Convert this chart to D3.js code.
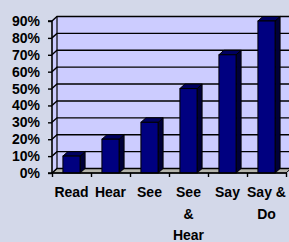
<!DOCTYPE html>
<html>
<head>
<meta charset="utf-8">
<script src="https://cdn.jsdelivr.net/npm/d3@7"></script>
<style>
  body { margin: 0; background: #d3d8e9; }
  svg { display: block; }
  text { font-family: "Liberation Sans", Arial, sans-serif; font-weight: bold; font-size: 14px; fill: #000; }
</style>
</head>
<body>
<svg id="chart" width="289" height="242"></svg>
<script>
/* Data */
var categories = ["Read", "Hear", "See", "See\n&\nHear", "Say", "Say &\nDo"];
var values = [0.10, 0.20, 0.30, 0.50, 0.70, 0.90];
var yTicks = [0, 0.1, 0.2, 0.3, 0.4, 0.5, 0.6, 0.7, 0.8, 0.9];

/* Scales */
var dx = 5, dy = 4.5; // 3d depth
var x = d3.scaleBand()
  .domain(categories)
  .range([52, 286])
  .paddingInner(0.56)
  .paddingOuter(0.28);

var xi = d3.scaleLinear().domain([0, categories.length]).range([52, 286]);

var y = d3.scaleLinear().domain([0, 0.9]).range([173, 21]);

var svg = d3.select("svg#chart");
var y0 = y(0), yTop = y(0.9);

// left wall
svg.append("polygon")
  .attr("points", [[52, y0], [52 + dx, y0 - dy], [52 + dx, yTop - dy], [52, yTop]].join(" "))
  .attr("fill", "#ccccff");

// back wall
svg.append("rect")
  .attr("x", 52 + dx).attr("y", yTop - dy)
  .attr("width", 300).attr("height", y0 - yTop)
  .attr("fill", "#ccccff");

// floor
svg.append("polygon")
  .attr("points", [[52, y0], [286, y0], [286 + dx, y0 - dy], [52 + dx, y0 - dy]].join(" "))
  .attr("fill", "#b4b4ac")
  .attr("stroke", "#000")
  .attr("stroke-width", 1);

// gridlines
svg.append("g")
  .selectAll("polyline")
  .data(yTicks)
  .enter()
  .append("polyline")
  .attr("points", d => [[52, y(d)], [52 + dx, y(d) - dy], [300, y(d) - dy]].join(" "))
  .attr("fill", "none")
  .attr("stroke", "#000")
  .attr("stroke-width", 1.4);

// back wall left edge
svg.append("line")
  .attr("x1", 52 + dx).attr("x2", 52 + dx)
  .attr("y1", yTop - dy).attr("y2", y0 - dy)
  .attr("stroke", "#000").attr("stroke-width", 1.2);

/* Bars */
var bars = svg.append("g")
  .selectAll("g")
  .data(values)
  .enter()
  .append("g");

var bw = x.bandwidth();

bars.append("polygon") // side
  .attr("points", (d, i) => {
    var bx = x(categories[i]) + bw;
    return [[bx, y(d)], [bx + dx, y(d) - dy], [bx + dx, y0 - dy], [bx, y0]].join(" ");
  })
  .attr("fill", "#000038")
  .attr("stroke", "#000")
  .attr("stroke-width", 1);

bars.append("polygon") // top
  .attr("points", (d, i) => {
    var bx = x(categories[i]);
    return [[bx, y(d)], [bx + dx, y(d) - dy], [bx + bw + dx, y(d) - dy], [bx + bw, y(d)]].join(" ");
  })
  .attr("fill", "#000060")
  .attr("stroke", "#000")
  .attr("stroke-width", 1);

bars.append("rect") // front
  .attr("x", (d, i) => x(categories[i]))
  .attr("y", d => y(d))
  .attr("width", bw)
  .attr("height", d => y0 - y(d))
  .attr("fill", "#000080")
  .attr("stroke", "#000")
  .attr("stroke-width", 1);

/* Axes */
var yAxis = svg.append("g")
  .attr("transform", "translate(52,0)")
  .call(d3.axisLeft(y).tickValues(yTicks).tickSize(4).tickPadding(8).tickFormat(d3.format(".0%")));
yAxis.select(".domain").attr("stroke-width", 1.6).attr("d", `M-4,${yTop}H0V${y0}H-4`);
yAxis.selectAll(".tick line").attr("stroke-width", 1.4);

var xAxis = svg.append("g")
  .attr("transform", `translate(0,${y0})`)
  .call(d3.axisBottom(xi).ticks(categories.length).tickSize(4).tickFormat(""));
xAxis.select(".domain").attr("stroke-width", 1.6).attr("d", "M52,0H286");
xAxis.selectAll(".tick line").attr("stroke-width", 1.4);

// category labels
svg.append("g")
  .selectAll("text")
  .data(categories)
  .enter()
  .append("text")
  .attr("text-anchor", "middle")
  .attr("x", d => x(d) + bw / 2)
  .attr("y", 197)
  .each(function (d) {
    var t = d3.select(this);
    d.split("\n").forEach((line, k) => {
      t.append("tspan")
        .attr("x", x(d) + bw / 2)
        .attr("y", 197 + k * 21.5)
        .text(line);
    });
  });

svg.selectAll("text").style("font-family", "'Liberation Sans', Arial, sans-serif").style("font-weight", "bold").style("font-size", "14px");
</script>
</body>
</html>
